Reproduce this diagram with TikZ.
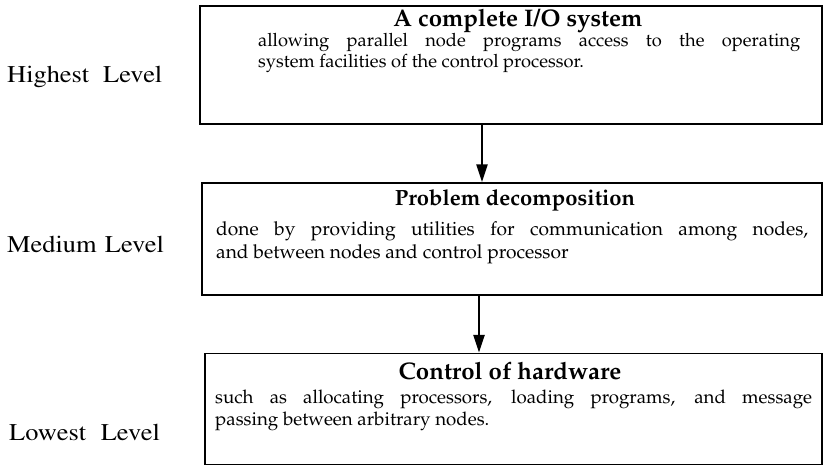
\documentclass[tikz,border=0pt]{standalone}
\usepackage[T1]{fontenc}
\usepackage{graphicx}
\usetikzlibrary{arrows.meta}
\newcommand{\pal}{\fontfamily{ppl}\selectfont}
\newcommand{\tms}{\fontfamily{ptm}\selectfont}
\newcommand{\lvltext}[2]{\scalebox{1.1}[1]{\makebox[#1][s]{#2}}}
\begin{document}
\begin{tikzpicture}[x=1pt,y=-1pt,
  box/.style={draw, line width=1.4pt, inner sep=0pt},
  ttl/.style={anchor=base, inner sep=0pt, font=\pal\bfseries\fontsize{#1}{26}\selectfont},
  body/.style={anchor=base west, inner sep=0pt, font=\pal\fontsize{#1}{22}\selectfont},
  lvl/.style={anchor=base west, inner sep=0pt, font=\tms\fontsize{24}{28}\selectfont},
  arr/.style={line width=2.6pt, -{Triangle[length=18pt,width=11pt]}}]
\useasboundingbox (0,0) rectangle (827,466);
% boxes
\node[box, minimum width=622pt, minimum height=118pt] (b1) at (511,65) {};
\node[box, minimum width=620pt, minimum height=112pt] (b2) at (512,239) {};
\node[box, minimum width=617pt, minimum height=111pt] (b3) at (513.5,409) {};
% box 1 text
\node[ttl=24] (t1) at (518,26) {A complete I/O system};
\node[body=18.3] (l11) at (258,46) {\makebox[542pt][s]{allowing parallel node programs access to the operating}};
\node[body=18.3] (l12) at (258,67) {system facilities of the control processor.};
% box 2 text
\node[ttl=22] (t2) at (515,205) {Problem decomposition};
\node[body=19.2] (l21) at (216,235) {\makebox[592pt][s]{done by providing utilities for communication among nodes,}};
\node[body=19.2] (l22) at (216,258) {and between nodes and control processor};
% box 3 text
\node[ttl=24] (t3) at (510,379) {Control of hardware};
\node[body=18.7] (l31) at (215,403) {\makebox[597pt][s]{such as allocating processors, loading programs, and message}};
\node[body=18.7] (l32) at (215,425) {passing between arbitrary nodes.};
% level labels
\node[lvl] (h) at (7,82) {\lvltext{141pt}{Highest Level}};
\node[lvl] (m) at (7,252) {\lvltext{142.5pt}{Medium Level}};
\node[lvl] (lw) at (9,440) {\lvltext{137pt}{Lowest Level}};
% arrows
\coordinate (x1) at (482,0);
\coordinate (x2) at (479,0);
\draw[arr] (b1.south -| x1) -- (b2.north -| x1);
\draw[arr] (b2.south -| x2) -- (b3.north -| x2);
\end{tikzpicture}
\end{document}
